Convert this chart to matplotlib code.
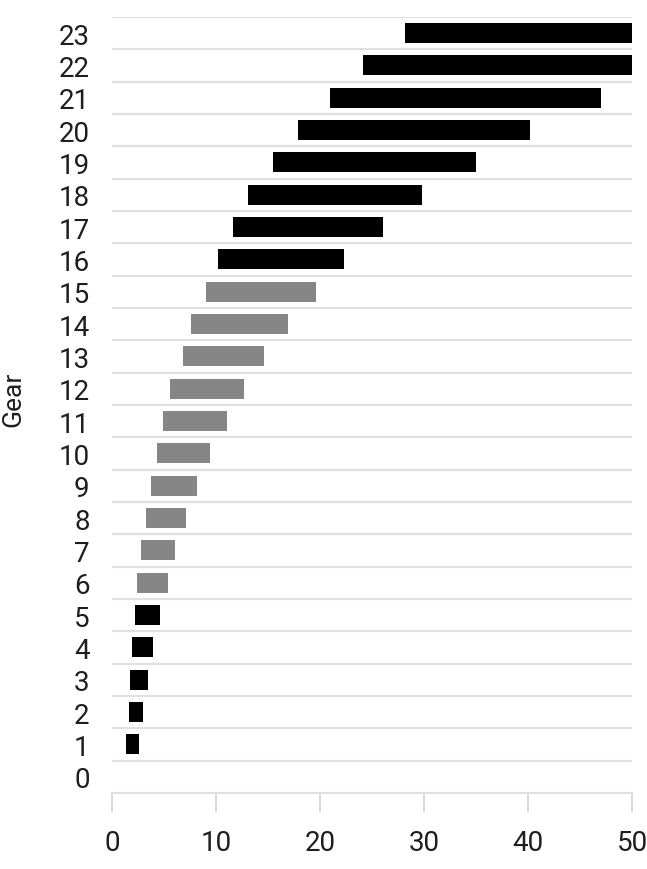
import numpy as np
import matplotlib
matplotlib.use("Agg")
import matplotlib.pyplot as plt

# speed range per gear (start, end)
gears = list(range(1, 24))
speed_lo = [1.35, 1.6, 1.75, 1.9, 2.2, 2.45, 2.8, 3.3, 3.8, 4.3, 4.9, 5.6,
            6.8, 7.6, 9.0, 10.2, 11.6, 13.1, 15.5, 17.9, 21.0, 24.1, 28.2]
speed_hi = [2.6, 3.0, 3.45, 3.9, 4.6, 5.4, 6.1, 7.1, 8.2, 9.4, 11.1, 12.7,
            14.6, 16.9, 19.6, 22.3, 26.1, 29.8, 35.0, 40.2, 47.0, 50.0, 50.0]
# which gears are drawn grey
grey_gears = [6, 7, 8, 9, 10, 11, 12, 13, 14, 15]

plt.rcParams['font.family'] = ['Roboto', 'DejaVu Sans']

fig = plt.figure(figsize=(6.47, 8.70), dpi=100)
ax = fig.add_axes([0.173, 0.0874, 0.804, 0.892])

colors = ['#868686' if g in grey_gears else '#000000' for g in gears]
widths = np.array(speed_hi) - np.array(speed_lo)
ax.barh(gears, widths, left=speed_lo, height=0.62, color=colors, zorder=3)

# horizontal separators between rows
for yy in np.arange(0.5, 24, 1.0):
    ax.axhline(yy, color='#e0e0e0', lw=1.6, zorder=1)

ax.set_xlim(0, 50)
ax.set_ylim(-0.5, 23.5)
ax.set_yticks(range(0, 24))
ax.set_xticks(range(0, 51, 10))

for s in ['top', 'right', 'left']:
    ax.spines[s].set_visible(False)
ax.spines['bottom'].set_color('#e0e0e0')
ax.spines['bottom'].set_linewidth(1.6)

ax.tick_params(axis='y', length=0, pad=16, labelsize=20, labelcolor='#1e1e1e')
ax.tick_params(axis='x', length=14, width=1.4, color='#d8d8d8', pad=12,
               labelsize=20, labelcolor='#1e1e1e')

ax.set_ylabel('Gear', fontsize=19, color='#1e1e1e')
ax.yaxis.set_label_coords(-0.167, 0.508)

fig.savefig('out.png', dpi=100)
